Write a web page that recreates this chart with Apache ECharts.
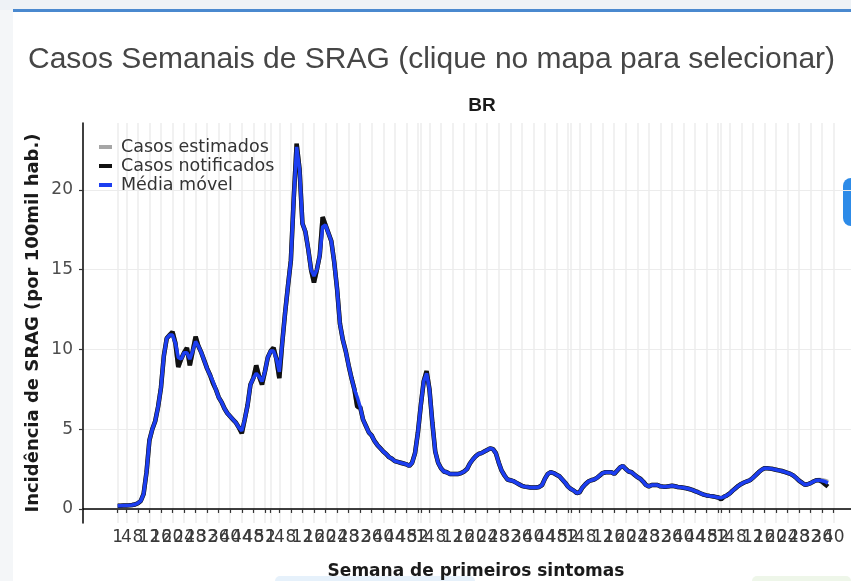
<!DOCTYPE html>
<html>
<head>
<meta charset="utf-8">
<script src="https://cdn.jsdelivr.net/npm/echarts@6/dist/echarts.min.js"></script>
<style>
  html, body { margin: 0; padding: 0; background: #fff; }
  #chart { width: 851px; height: 581px; }
</style>
</head>
<body>
<div id="chart"></div>
<script>
// epidemiological years shown on the x axis: [year, first week, last week]
const epiYears = [[2019, 41, 52], [2020, 1, 53], [2021, 1, 52], [2022, 1, 52], [2023, 1, 52], [2024, 1, 46]];
// last week that gets a tick label
const lastLabel = [2024, 40];

// Média móvel (blue), one value per week starting 2020 week 1
const mm2020 = [0.20, 0.20, 0.21, 0.22, 0.23, 0.25, 0.28, 0.36, 0.50, 0.95,
  2.3, 4.3, 5.0, 5.5, 6.4, 7.6, 9.6, 10.7, 10.9, 10.9,
  10.4, 9.5, 9.4, 9.8, 9.8, 9.4, 9.9, 10.5, 10.2, 9.8,
  9.3, 8.8, 8.4, 8.0, 7.5, 7.0, 6.7, 6.3, 6.0, 5.8,
  5.6, 5.4, 5.1, 4.9, 5.6, 6.5, 7.8, 8.2, 8.5, 8.3,
  8.0, 8.6, 9.5];
const mm2021 = [9.9, 9.9, 9.4, 8.6, 10.4, 12.3, 14.0, 15.6, 19.5, 22.7,
  21.3, 17.9, 17.4, 16.3, 15.0, 14.6, 15.0, 15.9, 17.7, 17.8,
  17.3, 16.8, 15.5, 13.8, 11.6, 10.6, 9.9, 9.0, 8.2, 7.5,
  7.0, 6.4, 5.6, 5.2, 4.8, 4.6, 4.25, 4.0, 3.8, 3.6,
  3.45, 3.25, 3.15, 3.0, 2.95, 2.9, 2.85, 2.8, 2.7, 2.9,
  3.5, 4.8];
const mm2022 = [6.5, 8.0, 8.5, 7.5, 5.4, 3.6, 2.9, 2.55, 2.35, 2.3,
  2.2, 2.2, 2.2, 2.2, 2.25, 2.35, 2.5, 2.85, 3.1, 3.3,
  3.45, 3.5, 3.6, 3.7, 3.8, 3.75, 3.5, 2.9, 2.4, 2.1,
  1.85, 1.8, 1.75, 1.65, 1.55, 1.45, 1.4, 1.38, 1.35, 1.35,
  1.35, 1.38, 1.5, 1.9, 2.2, 2.3, 2.25, 2.15, 2.05, 1.85,
  1.65, 1.4];
const mm2023 = [1.25, 1.15, 1.0, 1.05, 1.35, 1.55, 1.72, 1.8, 1.85, 1.95,
  2.1, 2.25, 2.3, 2.3, 2.3, 2.2, 2.4, 2.6, 2.7, 2.5,
  2.35, 2.3, 2.15, 2.0, 1.9, 1.72, 1.5, 1.42, 1.5, 1.5,
  1.5, 1.42, 1.4, 1.4, 1.43, 1.45, 1.42, 1.38, 1.36, 1.33,
  1.3, 1.25, 1.2, 1.12, 1.05, 0.97, 0.9, 0.85, 0.82, 0.8,
  0.76, 0.72];
const mm2024 = [0.7, 0.76, 0.85, 0.97, 1.15, 1.3, 1.45, 1.57, 1.66, 1.73,
  1.8, 1.95, 2.12, 2.3, 2.45, 2.55, 2.55, 2.53, 2.5, 2.46,
  2.42, 2.38, 2.32, 2.26, 2.2, 2.1, 1.95, 1.78, 1.65, 1.52,
  1.55, 1.62, 1.72, 1.8, 1.8, 1.77, 1.72, 1.62];

// Casos notificados (black)
const nt2020 = [0.20, 0.20, 0.21, 0.22, 0.23, 0.25, 0.28, 0.36, 0.50, 0.95,
  2.3, 4.3, 5.0, 5.5, 6.4, 7.6, 9.6, 10.7, 10.9, 11.1,
  10.4, 8.9, 9.4, 9.8, 10.1, 9.0, 9.9, 10.8, 10.2, 9.8,
  9.3, 8.8, 8.4, 7.9, 7.5, 7.0, 6.7, 6.3, 6.0, 5.8,
  5.6, 5.4, 5.1, 4.75, 5.6, 6.5, 7.8, 8.2, 9.0, 8.3,
  7.8, 8.6, 9.5];
const nt2021 = [9.9, 10.1, 9.4, 8.2, 10.4, 12.3, 14.0, 15.6, 19.5, 22.9,
  21.3, 17.9, 17.4, 16.3, 15.0, 14.2, 15.0, 15.9, 18.3, 17.8,
  17.3, 16.8, 15.5, 13.8, 11.6, 10.6, 9.9, 9.0, 8.2, 7.5,
  6.4, 6.4, 5.6, 5.2, 4.8, 4.6, 4.25, 4.0, 3.8, 3.6,
  3.45, 3.25, 3.15, 3.0, 2.95, 2.9, 2.85, 2.8, 2.7, 2.9,
  3.5, 4.8];
const nt2022 = [6.5, 8.0, 8.65, 7.5, 5.4, 3.6, 2.9, 2.55, 2.35, 2.3,
  2.2, 2.2, 2.2, 2.2, 2.25, 2.35, 2.5, 2.85, 3.1, 3.3,
  3.45, 3.5, 3.6, 3.7, 3.8, 3.75, 3.5, 2.9, 2.4, 2.1,
  1.85, 1.8, 1.75, 1.65, 1.55, 1.45, 1.4, 1.38, 1.35, 1.35,
  1.35, 1.38, 1.5, 1.9, 2.2, 2.3, 2.25, 2.15, 2.05, 1.85,
  1.65, 1.4];
const nt2023 = mm2023;
const nt2024 = [0.6, 0.76, 0.85, 0.97, 1.15, 1.3, 1.45, 1.57, 1.66, 1.73,
  1.8, 1.95, 2.12, 2.3, 2.45, 2.55, 2.55, 2.53, 2.5, 2.46,
  2.42, 2.38, 2.32, 2.26, 2.2, 2.1, 1.95, 1.78, 1.65, 1.52,
  1.55, 1.62, 1.72, 1.8, 1.8, 1.7, 1.55, 1.4];

// Casos estimados (gray) only differs from notified in the last weeks
const est2024 = [0.7, 0.76, 0.85, 0.97, 1.15, 1.3, 1.45, 1.57, 1.66, 1.73,
  1.8, 1.95, 2.12, 2.3, 2.45, 2.55, 2.55, 2.53, 2.5, 2.46,
  2.42, 2.38, 2.32, 2.26, 2.2, 2.1, 1.95, 1.78, 1.65, 1.52,
  1.55, 1.62, 1.72, 1.8, 1.82, 1.8, 1.76, 1.68];

const yTicks = [0, 5, 10, 15, 20];

// build categories
var cats = [], weekNo = [], showLab = [];
epiYears.forEach(function (y) {
  for (var w = y[1]; w <= y[2]; w++) {
    cats.push(y[0] + '-' + w);
    weekNo.push(w);
    var ok = y[0] >= 2020 && (w == 1 || w % 4 == 0);
    if (y[0] > lastLabel[0] || (y[0] == lastLabel[0] && w > lastLabel[1])) ok = false;
    showLab.push(ok);
  }
});
var pad = [];
for (var i = 0; i < epiYears[0][2] - epiYears[0][1] + 1; i++) pad.push(null);

var mmData = pad.concat(mm2020, mm2021, mm2022, mm2023, mm2024);
var ntData = pad.concat(nt2020, nt2021, nt2022, nt2023, nt2024);
var estData = pad.concat(nt2020, nt2021, nt2022, nt2023, est2024);

var BLUE = '#1c3ef0';
var GG_FONT = 'DejaVu Sans, Liberation Sans, sans-serif';
var chart = echarts.init(document.getElementById('chart'), null, { renderer: 'canvas' });

chart.setOption({
  animation: false,
  backgroundColor: '#ffffff',
  textStyle: { fontFamily: GG_FONT },
  graphic: [
    { type: 'rect', z: -10, shape: { x: 0, y: 0, width: 851, height: 10 }, style: { fill: '#eef2f6' } },
    { type: 'rect', z: -10, shape: { x: 0, y: 10, width: 13, height: 571 }, style: { fill: '#f4f6f8' } },
    { type: 'rect', z: -9, shape: { x: 13, y: 9, width: 838, height: 3 }, style: { fill: '#4a89cf' } },
    { type: 'rect', z: -9, shape: { x: 843, y: 178, width: 24, height: 48, r: 8 }, style: { fill: '#2d8be8' } },
    { type: 'rect', z: -10, shape: { x: 275, y: 576, width: 200, height: 10, r: 5 }, style: { fill: '#e6f1fb' } },
    { type: 'rect', z: -10, shape: { x: 752, y: 576, width: 99, height: 10, r: 5 }, style: { fill: '#eef6e9' } }
  ],
  title: [
    {
      text: 'Casos Semanais de SRAG (clique no mapa para selecionar)',
      left: 23, top: 40,
      textStyle: { fontSize: 30, fontWeight: 'normal', color: '#464646', fontFamily: 'Liberation Sans, Arial, sans-serif' }
    },
    {
      text: 'BR',
      left: 477, top: 91, textAlign: 'center',
      textStyle: { fontSize: 19, fontWeight: 'bold', color: '#1a1a1a', fontFamily: 'Liberation Sans, Arial, sans-serif' }
    }
  ],
  legend: {
    orient: 'vertical',
    left: 94, top: 133,
    itemWidth: 13, itemHeight: 4, itemGap: 1,
    icon: 'rect',
    textStyle: { fontSize: 17.5, color: '#333', padding: [0, 0, 0, 4], fontFamily: GG_FONT },
    data: ['Casos estimados', 'Casos notificados', 'Média móvel']
  },
  grid: { left: 83, right: 0, top: 123, bottom: 58, containLabel: false, outerBoundsMode: 'none' },
  xAxis: {
    type: 'category',
    data: cats,
    boundaryGap: false,
    name: 'Semana de primeiros sintomas',
    nameLocation: 'middle',
    nameGap: 40,
    nameTextStyle: { fontSize: 17, fontWeight: 'bold', color: '#1a1a1a', fontFamily: GG_FONT, padding: [0, 0, 0, 18] },
    axisLine: { lineStyle: { color: '#000', width: 1.5 } },
    axisTick: {
      alignWithLabel: true, length: 4,
      interval: function (i) { return showLab[i]; },
      lineStyle: { color: '#333', width: 1.2 }
    },
    axisLabel: {
      // every category gets a label slot, only week 1 and multiples of 4 get text
      interval: 0,
      formatter: function (v, i) { return showLab[i] ? String(weekNo[i]) : ''; },
      fontSize: 17, color: '#3a3a3a', margin: 6, fontFamily: GG_FONT,
      hideOverlap: false
    },
    splitLine: {
      show: true,
      interval: function (i) { return showLab[i]; },
      lineStyle: { color: '#ececec', width: 1.5 }
    }
  },
  yAxis: {
    type: 'value',
    min: -0.88, max: 24.2,
    name: 'Incidência de SRAG (por 100mil hab.)',
    nameLocation: 'middle',
    nameGap: 41,
    nameMoveOverlap: false,
    nameTextStyle: { fontSize: 18, fontWeight: 'bold', color: '#1a1a1a', fontFamily: GG_FONT },
    axisLine: { show: true, lineStyle: { color: '#000', width: 1.5 } },
    axisTick: { show: true, length: 4, customValues: yTicks, lineStyle: { color: '#333', width: 1.2 } },
    axisLabel: { customValues: yTicks, fontSize: 17, color: '#4d4d4d', margin: 10, fontFamily: GG_FONT },
    splitLine: { show: true, lineStyle: { color: '#ececec', width: 1.2 } }
  },
  series: [
    {
      name: 'Casos estimados', type: 'line', data: estData, symbol: 'none',
      itemStyle: { color: '#a6a6a6' }, lineStyle: { color: '#a6a6a6', width: 4.5 }, z: 2
    },
    {
      name: 'Casos notificados', type: 'line', data: ntData, symbol: 'none',
      itemStyle: { color: '#111' }, lineStyle: { color: '#111', width: 4.5 }, z: 3
    },
    {
      name: 'Média móvel', type: 'line', data: mmData, symbol: 'none',
      itemStyle: { color: BLUE }, lineStyle: { color: BLUE, width: 3.5 }, z: 4
    }
  ]
});
</script>
</body>
</html>
